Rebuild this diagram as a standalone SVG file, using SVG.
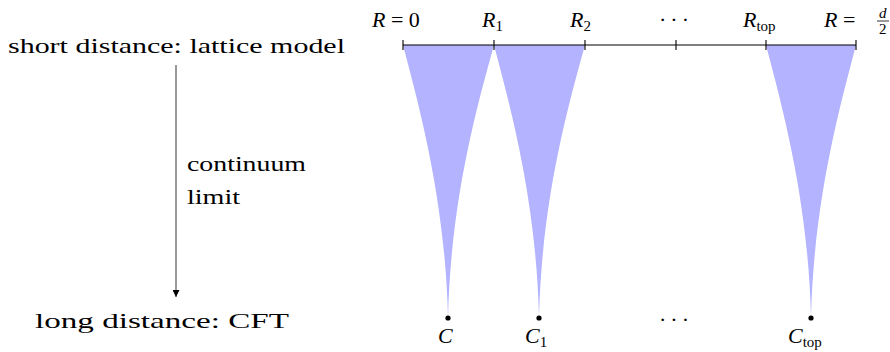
<svg xmlns="http://www.w3.org/2000/svg" width="890" height="352" viewBox="0 0 890 352" font-family="'Liberation Serif', 'Times New Roman', 'DejaVu Serif', serif">
<style>
text{fill:#000}
.t{font-size:22px}
.m{font-size:22px}
.i{font-style:italic}
.s{font-size:15px}
.funnel{fill:#b3b3ff;stroke:none}
.axis{stroke:#000;stroke-width:1.1;fill:none}
.dot{fill:#000}
</style>
<defs>
<marker id="ah" viewBox="0 0 10 10" refX="10" refY="5" markerWidth="7" markerHeight="7" markerUnits="userSpaceOnUse" orient="auto">
<path d="M0,0 L10,5 L0,10 z" fill="#000"/>
</marker>
</defs>
<g id="label-short"><text class="t" x="8" y="53" textLength="337" lengthAdjust="spacingAndGlyphs">short distance: lattice model</text></g>
<g id="label-long"><text class="t" x="35" y="328" textLength="254" lengthAdjust="spacingAndGlyphs">long distance: CFT</text></g>
<g id="label-continuum">
<text class="t" x="187" y="171" textLength="119" lengthAdjust="spacingAndGlyphs">continuum</text>
<text class="t" x="187" y="204" textLength="53" lengthAdjust="spacingAndGlyphs">limit</text>
</g>
<g id="funnel-0"><path class="funnel" d="M403,45 C420,110 445,200 448,317 C451,200 476,110 494,45 Z"/></g>
<g id="funnel-1"><path class="funnel" d="M494,45 C511,110 536,200 539,317 C542,200 567,110 585,45 Z"/></g>
<g id="funnel-top"><path class="funnel" d="M766,45 C783,110 808,200 811,317 C814,200 839,110 856,45 Z"/></g>
<g id="connectors">
<line x1="176" y1="65" x2="176" y2="297" stroke="#555" stroke-width="1.2" marker-end="url(#ah)"/>
</g>
<g id="axis">
<line class="axis" x1="403" y1="45" x2="856" y2="45"/>
<path class="axis" d="M403,40V50M494,40V50M585,40V50M676,40V50M766,40V50M856,40V50"/>
</g>
<g id="top-labels">
<text class="m" x="372" y="27"><tspan class="i">R</tspan> = 0</text>
<text class="m" x="482" y="27"><tspan class="i">R</tspan><tspan class="s" dy="4">1</tspan></text>
<text class="m" x="570" y="27"><tspan class="i">R</tspan><tspan class="s" dy="4">2</tspan></text>
<text class="m" x="659" y="27" letter-spacing="4">···</text>
<text class="m" x="743" y="27"><tspan class="i">R</tspan><tspan class="s" dy="4">top</tspan></text>
<text class="m" x="824" y="27"><tspan class="i">R</tspan> =</text>
<text class="s i" x="879" y="18">d</text>
<line x1="877" y1="21" x2="889" y2="21" stroke="#000" stroke-width="0.8"/>
<text class="s" x="879" y="34">2</text>
</g>
<g id="node-C"><circle class="dot" cx="448" cy="318" r="2.6"/><text class="m i" x="438" y="343">C</text></g>
<g id="node-C1"><circle class="dot" cx="539" cy="318" r="2.6"/><text class="m" x="525" y="343"><tspan class="i">C</tspan><tspan class="s" dy="4">1</tspan></text></g>
<g id="node-dots"><text class="m" x="659" y="327" letter-spacing="4">···</text></g>
<g id="node-Ctop"><circle class="dot" cx="811" cy="318" r="2.6"/><text class="m" x="788" y="343"><tspan class="i">C</tspan><tspan class="s" dy="4">top</tspan></text></g>
</svg>
